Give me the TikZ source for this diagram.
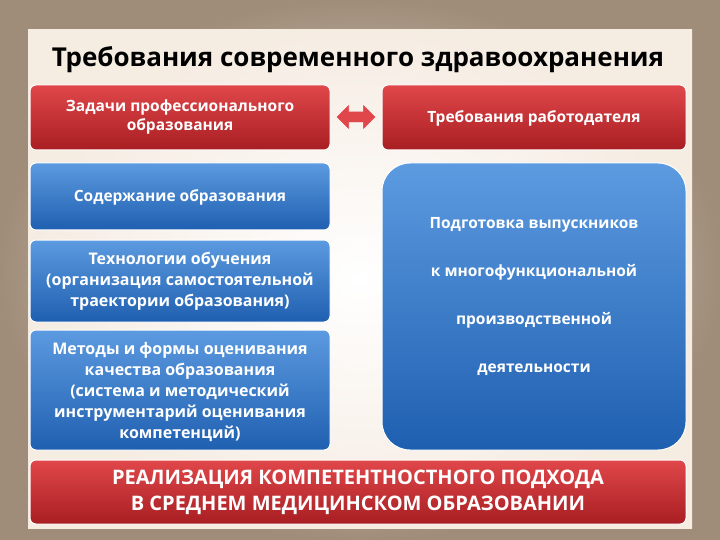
\documentclass[tikz,border=0pt]{standalone}
\usepackage{fontspec}
\setmainfont{Open Sans}
\usetikzlibrary{shapes.arrows}
\definecolor{redA}{HTML}{E0474A}
\definecolor{redB}{HTML}{A81E22}
\definecolor{blueA}{HTML}{5C9BE0}
\definecolor{blueB}{HTML}{1F5FB0}
\begin{document}
\begin{tikzpicture}[x=1pt,y=-1pt,
 redbox/.style={draw=white,line width=1pt,rounded corners=6pt,top color=redA,bottom color=redB},
 bluebox/.style={draw=white,line width=1pt,rounded corners=6pt,top color=blueA,bottom color=blueB},
 txt/.style={text=white,align=center,font=\bfseries\fontsize{15.5}{19}\selectfont}]
\shade[inner color=white!90!brown,outer color=black!50!brown!60] (0,0) rectangle (720,540);
\useasboundingbox (0,0) rectangle (720,540);
\shade[inner color=white,outer color=white!85!brown] (28,30) rectangle (692,528);
\node[font=\bfseries\fontsize{26}{30}\selectfont] (title) at (358,60) {Требования современного здравоохранения};
\path[redbox] (30,85) rectangle (330,150);
\node[txt] (r1) at (180,117) {Задачи профессионального\\образования};
\path[redbox] (382,85) rectangle (686,150);
\node[txt] (r2) at (534,118) {Требования работодателя};
\node[double arrow,draw=white,fill=redA,minimum width=26pt,double arrow head extend=3pt,minimum height=40pt,inner sep=2pt] (arr) at (356,117) {};
\path[bluebox] (30,163) rectangle (330,230);
\node[txt] (b1) at (180,197) {Содержание образования};
\path[bluebox] (30,240) rectangle (330,322);
\node[txt,font=\bfseries\fontsize{16}{21}\selectfont] (b2) at (180,281) {Технологии обучения\\(организация самостоятельной\\траектории образования)};
\path[bluebox] (30,330) rectangle (330,450);
\node[txt,font=\bfseries\fontsize{16}{21}\selectfont] (b3) at (180,392) {Методы и формы оценивания\\качества образования\\(система и методический\\инструментарий оценивания\\компетенций)};
\path[bluebox,rounded corners=28pt] (382,163) rectangle (686,450);
\node[txt,font=\bfseries\fontsize{15.5}{48}\selectfont] (b4) at (534,296) {Подготовка выпускников\\к многофункциональной\\производственной\\деятельности};
\path[redbox] (30,460) rectangle (686,524);
\node[txt,font=\bfseries\fontsize{20}{26}\selectfont] (bot) at (358,492) {РЕАЛИЗАЦИЯ КОМПЕТЕНТНОСТНОГО ПОДХОДА\\В СРЕДНЕМ МЕДИЦИНСКОМ ОБРАЗОВАНИИ};
\end{tikzpicture}
\end{document}
